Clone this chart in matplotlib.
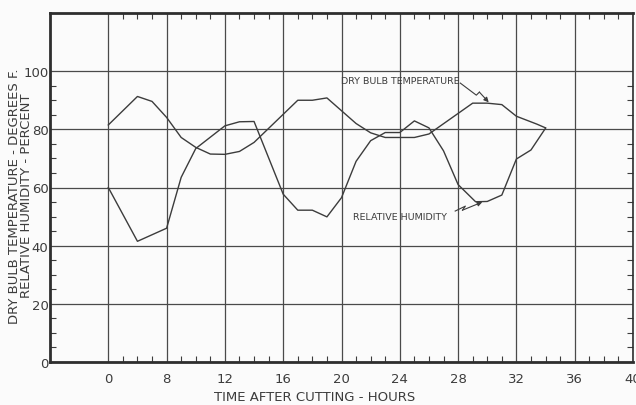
import matplotlib
matplotlib.use("Agg")
import matplotlib.pyplot as plt
from matplotlib.ticker import FixedLocator

# hours after cutting (left axis = 0, one grid square = 4 hours)
temp_hours = [4, 6, 7, 8, 9, 10, 11, 12, 13, 14, 17, 18, 19, 20, 21, 22, 23,
              25, 26, 29, 30, 31, 32, 33.4, 34]
temp_values = [81.5, 91.3, 89.6, 84.1, 77.2, 73.8, 71.5, 71.4, 72.4, 75.5, 90.0,
               90.0, 90.8, 86.4, 82.0, 78.8, 77.2, 77.2, 78.4, 89.0, 89.0, 88.5,
               84.5, 81.8, 80.5]

rh_hours = [4, 6, 8, 9, 10, 12, 13, 14, 16, 17, 18, 19, 20, 21, 22, 23, 24, 25,
            26, 27, 28, 29.2, 30, 31, 32, 33, 34]
rh_values = [60.0, 41.5, 46.0, 63.5, 73.4, 81.2, 82.6, 82.7, 57.7, 52.2, 52.2,
             49.9, 56.5, 69.0, 76.1, 78.9, 78.9, 82.9, 80.5, 72.6, 61.0, 55.1,
             55.2, 57.4, 69.8, 72.9, 80.4]

x_tick_pos = [4, 8, 12, 16, 20, 24, 28, 32, 36, 40]
x_tick_labels = ["0", "8", "12", "16", "20", "24", "28", "32", "36", "40"]
y_tick_pos = [0, 20, 40, 60, 80, 100]

ink = "#3c3c3c"
plt.rcParams["font.family"] = ["DejaVu Sans"]

fig = plt.figure(figsize=(6.36, 4.06), dpi=100, facecolor="#fbfbfb")
ax = fig.add_axes([50 / 636, 1 - 363 / 406, 583 / 636, 349 / 406])
ax.set_facecolor("#fbfbfb")

ax.plot(temp_hours, temp_values, color=ink, lw=1.0)
ax.plot(rh_hours, rh_values, color=ink, lw=1.0)

ax.set_xlim(0, 40)
ax.set_ylim(0, 120)
ax.set_xticks(x_tick_pos)
ax.set_xticklabels(x_tick_labels)
ax.set_yticks(y_tick_pos)
ax.set_yticklabels([str(v) for v in y_tick_pos])

ax.xaxis.set_minor_locator(FixedLocator([h for h in range(5, 40) if h % 4]))
ax.yaxis.set_minor_locator(FixedLocator([v for v in range(5, 100, 5) if v % 20]))

ax.grid(which="major", color="#4a4a4a", lw=0.9)
ax.tick_params(which="major", length=0, labelsize=9.5, labelcolor=ink)
ax.tick_params(axis="x", which="major", pad=7)
ax.tick_params(axis="y", which="major", pad=1)
ax.tick_params(which="minor", direction="in", length=4, width=0.8,
               color=ink, top=True, right=True)

for side, lw in (("left", 2.0), ("bottom", 2.0), ("top", 2.0), ("right", 1.2)):
    ax.spines[side].set_linewidth(lw)
    ax.spines[side].set_color("#2e2e2e")

# lightning-bolt leaders
ax.plot([28.15, 29.25, 29.46], [95.9, 91.75, 92.8], color=ink, lw=0.8)
ax.annotate("", xy=(30.1, 89.3), xytext=(29.46, 92.8),
            arrowprops=dict(arrowstyle="-|>", color=ink, lw=0.8,
                            mutation_scale=7, shrinkA=0, shrinkB=0))
ax.plot([27.8, 28.5, 28.3], [51.9, 53.6, 52.2], color=ink, lw=0.8)
ax.annotate("", xy=(29.66, 55.0), xytext=(28.3, 52.2),
            arrowprops=dict(arrowstyle="-|>", color=ink, lw=0.8,
                            mutation_scale=7, shrinkA=0, shrinkB=0))

ax.text(19.96, 96.9, "DRY BULB TEMPERATURE", fontsize=6.8, color=ink,
        va="center", ha="left")
ax.text(20.8, 50.2, "RELATIVE HUMIDITY", fontsize=6.8, color=ink,
        va="center", ha="left")

fig.text(15 / 636, 1 - 196 / 406, "DRY BULB TEMPERATURE - DEGREES F.",
         rotation=90, ha="center", va="center", fontsize=9.5, color=ink)
fig.text(27 / 636, 1 - 196 / 406, "RELATIVE HUMIDITY - PERCENT",
         rotation=90, ha="center", va="center", fontsize=9.5, color=ink)
fig.text(315 / 636, 1 - 398 / 406, "TIME AFTER CUTTING - HOURS",
         ha="center", va="center", fontsize=9.5, color=ink)

fig.savefig("out.png", dpi=100, facecolor=fig.get_facecolor())
